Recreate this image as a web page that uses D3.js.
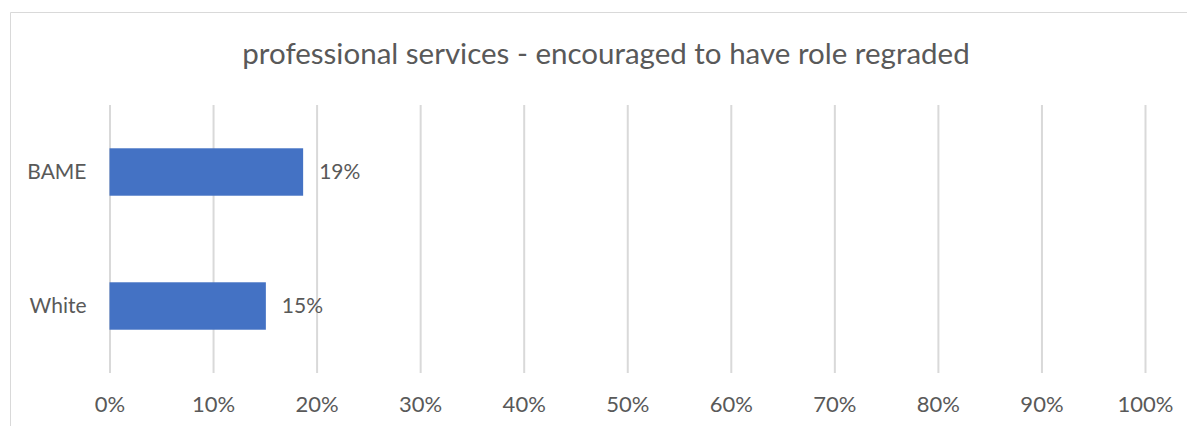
<!DOCTYPE html>
<html>
<head>
<meta charset="utf-8">
<script src="https://cdn.jsdelivr.net/npm/d3@7"></script>
<style>
  html, body { margin: 0; padding: 0; background: #fff; }
  svg { display: block; font-family: Lato, "Open Sans", sans-serif; }
</style>
</head>
<body>
<svg id="chart" width="1187" height="426"></svg>
<script>
const title = "professional services - encouraged to have role regraded";
const categories = ["BAME", "White"];
const values = [0.187, 0.151];
const valueLabels = ["19%", "15%"];
const tickValues = [0, 0.1, 0.2, 0.3, 0.4, 0.5, 0.6, 0.7, 0.8, 0.9, 1.0];

const svg = d3.select("#chart");
const W = 1187, H = 426;
const textColor = "#595959";

// chart border (cropped on right and bottom)
svg.append("path")
  .attr("d", `M10.5,${H} L10.5,12.5 L${W},12.5`)
  .attr("fill", "none").attr("stroke", "#d9d9d9").attr("stroke-width", 1);

svg.append("text")
  .attr("x", 606).attr("y", 64)
  .attr("text-anchor", "middle")
  .attr("fill", textColor)
  .attr("font-size", 29.5)
  .text(title);

const x = d3.scaleLinear().domain([0, 1]).range([109.5, 1145]);
const y = d3.scaleBand().domain(categories).range([105, 373])
  .paddingInner(0.646).paddingOuter(0.323);

// gridlines
const grid = d3.axisBottom(x).tickValues(tickValues).tickSize(-(373 - 105)).tickFormat("");
const gg = svg.append("g").attr("transform", "translate(0,373)").call(grid);
gg.select(".domain").remove();
gg.selectAll(".tick line").attr("stroke", "#d9d9d9").attr("stroke-width", 2);

// x tick labels
const xa = d3.axisBottom(x).tickValues(tickValues).tickSize(0).tickFormat(d3.format(".0%"));
const xg = svg.append("g").attr("transform", "translate(0,373)").call(xa);
xg.select(".domain").remove();
xg.selectAll("text").attr("fill", textColor).attr("font-size", 22)
  .attr("font-family", "Lato, sans-serif").attr("dy", null).attr("y", 39);

// y category labels
const ya = d3.axisLeft(y).tickSize(0).tickPadding(23);
const yg = svg.append("g").attr("transform", "translate(109.5,0)").call(ya);
yg.select(".domain").remove();
yg.selectAll("text").attr("fill", textColor).attr("font-size", 21)
  .attr("font-family", "Lato, sans-serif");

// bars
svg.selectAll("rect.bar").data(categories).join("rect")
  .attr("class", "bar")
  .attr("x", x(0))
  .attr("y", d => y(d))
  .attr("width", (d, i) => x(values[i]) - x(0))
  .attr("height", y.bandwidth())
  .attr("fill", "#4472c4");

// value labels
svg.selectAll("text.val").data(categories).join("text")
  .attr("class", "val")
  .attr("x", (d, i) => x(values[i]) + 16)
  .attr("y", d => y(d) + y.bandwidth() / 2)
  .attr("dy", "0.35em")
  .attr("fill", textColor)
  .attr("font-size", 21)
  .text((d, i) => valueLabels[i]);
</script>
</body>
</html>
